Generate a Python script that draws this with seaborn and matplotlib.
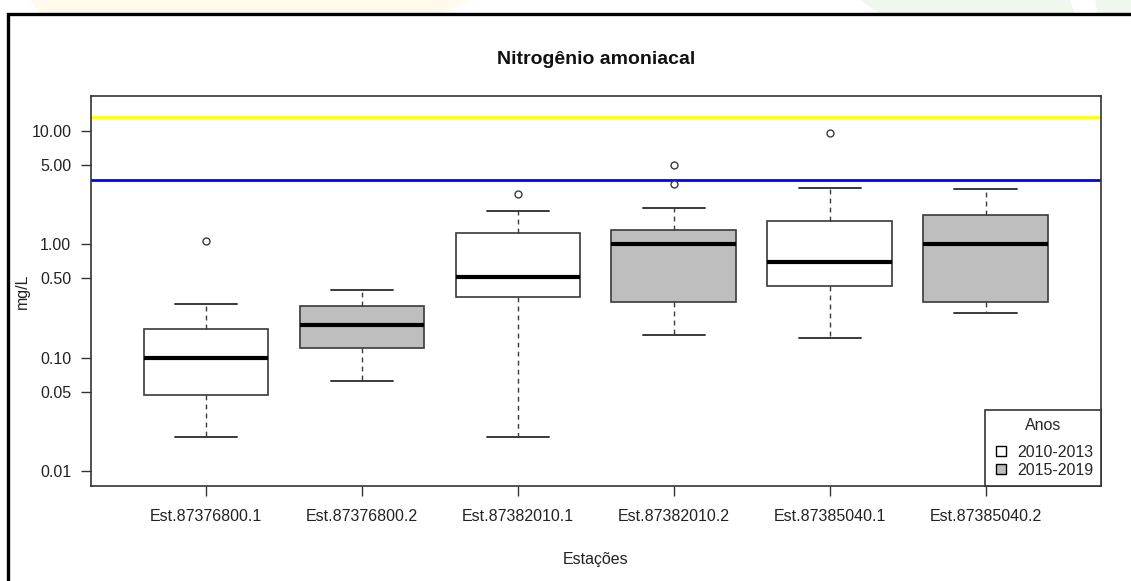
import numpy as np
import pandas as pd
import matplotlib
matplotlib.use("Agg")
import matplotlib.pyplot as plt
from matplotlib.patches import Rectangle, Polygon
from matplotlib.lines import Line2D
import seaborn as sns

# ---------------- data ----------------
stations = ["Est.87376800.1", "Est.87376800.2", "Est.87382010.1",
            "Est.87382010.2", "Est.87385040.1", "Est.87385040.2"]
periods = ["2010-2013", "2015-2019", "2010-2013",
           "2015-2019", "2010-2013", "2015-2019"]
whisker_low = [0.020, 0.063, 0.020, 0.160, 0.150, 0.250]
q1 = [0.047, 0.121, 0.341, 0.308, 0.429, 0.308]
median = [0.100, 0.195, 0.512, 1.010, 0.703, 1.010]
q3 = [0.178, 0.284, 1.265, 1.345, 1.610, 1.810]
whisker_high = [0.296, 0.396, 1.980, 2.100, 3.130, 3.070]

outlier_station = ["Est.87376800.1", "Est.87382010.1", "Est.87382010.2",
                   "Est.87382010.2", "Est.87385040.1"]
outlier_value = [1.07, 2.77, 5.00, 3.42, 9.62]

limit_class3 = 13.3   # yellow line
limit_class2 = 3.7    # blue line

legend_title = "Anos"
legend_labels = ["2010-2013", "2015-2019"]
ytick_values = [0.01, 0.05, 0.10, 0.50, 1.00, 5.00, 10.00]
ytick_labels = ["0.01", "0.05", "0.10", "0.50", "1.00", "5.00", "10.00"]

# ---------------- long table ----------------
rows = []
for i, st in enumerate(stations):
    for v in (whisker_low[i], q1[i], median[i], q3[i], whisker_high[i]):
        rows.append({"Estação": st, "Anos": periods[i], "valor": v})
df = pd.DataFrame(rows)
df_out = pd.DataFrame({"Estação": outlier_station, "valor": outlier_value})

# ---------------- figure ----------------
sns.set_theme(style="white")
plt.rcParams["font.family"] = ["Liberation Sans", "DejaVu Sans"]

W, H = 1131, 581
fig = plt.figure(figsize=(W / 100, H / 100), dpi=100)
fig.patch.set_facecolor("white")

# faint watermark at the top edge
fig.patches.append(Polygon([(30 / W, 1), (470 / W, 1), (440 / W, 1 - 14 / H), (40 / W, 1 - 14 / H)],
                           closed=True, transform=fig.transFigure, facecolor="#FFFAEC",
                           edgecolor="none", zorder=0))
fig.patches.append(Polygon([(860 / W, 1), (1070 / W, 1), (1075 / W, 1 - 14 / H), (880 / W, 1 - 14 / H)],
                           closed=True, transform=fig.transFigure, facecolor="#EFF7EF",
                           edgecolor="none", zorder=0))
fig.patches.append(Polygon([(1095 / W, 1), (1.0, 1), (1.0, 1 - 14 / H), (1098 / W, 1 - 14 / H)],
                           closed=True, transform=fig.transFigure, facecolor="#EFF7EF",
                           edgecolor="none", zorder=0))
# black frame of the screenshot
fig.patches.append(Rectangle((8 / W, -0.2), 1.5, 1 - 14 / H + 0.2, transform=fig.transFigure,
                             fill=False, edgecolor="black", linewidth=2.4, zorder=1))

ax = fig.add_axes([90.7 / W, 1 - 485.7 / H, (1101 - 90.7) / W, (485.7 - 96) / H])
ax.set_yscale("log")

edge = "#3a3a3a"
sns.boxplot(data=df, x="Estação", y="valor", hue="Anos", order=stations,
            hue_order=legend_labels, palette={"2010-2013": "white", "2015-2019": "#BEBEBE"},
            dodge=False, width=0.8, whis=(0, 100), linecolor=edge, linewidth=1.2,
            legend=False, ax=ax,
            medianprops=dict(color="black", linewidth=3.0),
            whiskerprops=dict(color=edge, linestyle=(0, (3.5, 3.0)), linewidth=1.0),
            capprops=dict(color=edge, linewidth=1.4),
            boxprops=dict(edgecolor=edge, linewidth=1.2))

sns.stripplot(data=df_out, x="Estação", y="valor", order=stations, jitter=False,
              color="white", edgecolor=edge, linewidth=1.0, size=5, ax=ax, zorder=5)

ax.axhline(limit_class3, color="#FFFF00", linewidth=2.0, zorder=1)
ax.axhline(limit_class2, color="#0000FF", linewidth=2.0, zorder=1)

ax.set_xlim(-0.74, 5.74)
ax.set_ylim(0.00746, 20.26)
ax.set_yticks(ytick_values)
ax.set_yticklabels(ytick_labels)
ax.yaxis.set_minor_locator(matplotlib.ticker.NullLocator())

for s in ax.spines.values():
    s.set_visible(True)
    s.set_color("#333333")
    s.set_linewidth(1.2)

ax.tick_params(axis="both", which="major", direction="out", length=7, width=1.0,
               color="#333333", labelsize=11.5, labelcolor="#222222",
               bottom=True, left=True, top=False, right=False)
ax.tick_params(axis="x", pad=10)
ax.tick_params(axis="y", pad=7)
ax.set_xlabel("Estações", fontsize=11.5, color="#222222")
ax.set_ylabel("mg/L", fontsize=11.5, color="#222222")
ax.yaxis.set_label_coords(-0.060, 0.5)
ax.xaxis.set_label_coords(0.5, -0.17)

fig.text(0.5 * (90.7 + 1101) / W, 1 - 60 / H, "Nitrogênio amoniacal", ha="center", va="center",
         fontsize=14, fontweight="bold", color="#111111")

handles = [Line2D([], [], marker="s", linestyle="", markerfacecolor="white",
                  markeredgecolor="black", markersize=7, markeredgewidth=1.0),
           Line2D([], [], marker="s", linestyle="", markerfacecolor="#BEBEBE",
                  markeredgecolor="black", markersize=7, markeredgewidth=1.0)]
leg = ax.legend(handles, legend_labels, title=legend_title, loc="lower right",
                borderaxespad=0, frameon=True, fancybox=False, fontsize=11.5,
                title_fontsize=11.5, handletextpad=0.5, handlelength=1.0,
                borderpad=0.5, labelspacing=0.2)
leg._legend_box.sep = 8
leg.get_frame().set_edgecolor("#333333")
leg.get_frame().set_linewidth(1.2)
leg.get_frame().set_alpha(1)

fig.savefig("out.png", dpi=100)
